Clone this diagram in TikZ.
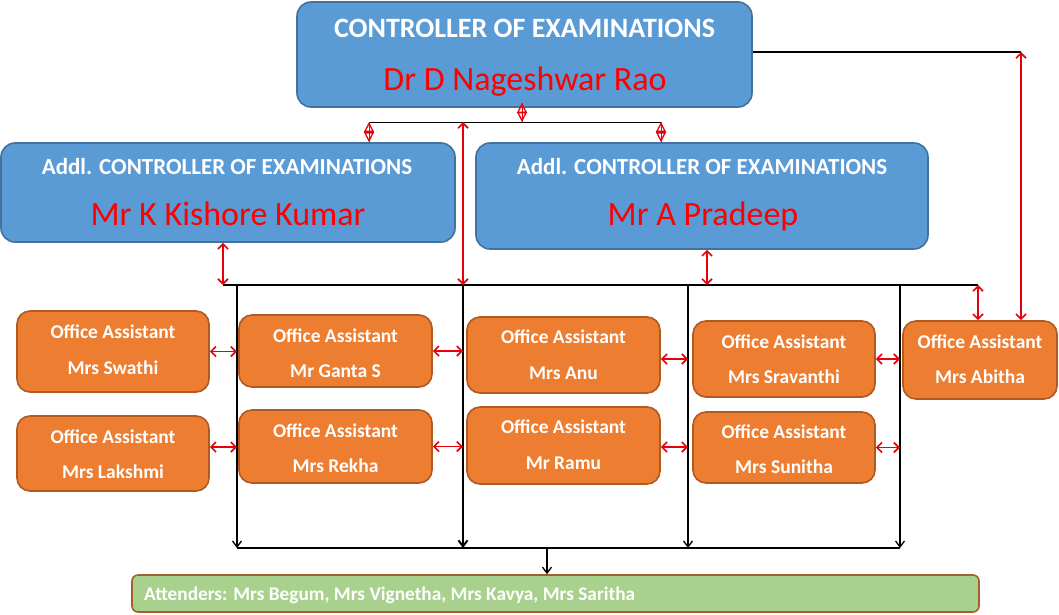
\documentclass[tikz,border=0pt]{standalone}
\usepackage{fontspec}
\setmainfont{Carlito}
\usetikzlibrary{arrows.meta}
\definecolor{bfill}{HTML}{5B9BD5}
\definecolor{bdraw}{HTML}{41719C}
\definecolor{ofill}{HTML}{ED7D31}
\definecolor{odraw}{HTML}{AE5A21}
\definecolor{gfill}{HTML}{A9D18E}
\definecolor{gdraw}{HTML}{A5602A}
\definecolor{ared}{HTML}{E8000B}
\newcommand\assist[8]{%
  \node[obox, minimum width=#4, minimum height=#5] (#1) at (#2,#3) {};
  \node[otext] (#1-r) at (#2,#6) {Office Assistant};
  \node[otext] (#1-n) at (#2,#7) {#8};
}
\begin{document}
\begin{tikzpicture}[x=1pt,y=-1pt,
  bbox/.style={draw=bdraw, fill=bfill, line width=1.6pt, rounded corners=14pt, inner sep=0pt},
  obox/.style={draw=odraw, fill=ofill, line width=1.6pt, rounded corners=13pt, inner sep=0pt},
  gbox/.style={draw=gdraw, fill=gfill, line width=1.6pt, rounded corners=6pt, inner sep=0pt},
  ttext/.style={anchor=base, text=white, inner sep=0pt, font=\fontsize{28}{28}\selectfont\bfseries},
  atext/.style={anchor=base, text=white, inner sep=0pt, font=\fontsize{23}{23}\selectfont\bfseries},
  ntext/.style={anchor=base, text=red, inner sep=0pt, font=\fontsize{34}{34}\selectfont},
  otext/.style={anchor=base, text=white, inner sep=0pt, font=\fontsize{19.5}{19.5}\selectfont\bfseries},
  gtext/.style={anchor=base west, text=white, inner sep=0pt, font=\fontsize{19.3}{19.3}\selectfont\bfseries},
  rarr/.style={draw=ared, line width=1.7pt, {Straight Barb[length=5pt,width=10pt]}-{Straight Barb[length=5pt,width=10pt]}},
  diam/.style={draw=ared, line width=1.3pt, {Triangle[open,length=10pt,width=10pt]}-{Triangle[open,length=10pt,width=10pt]}},
  rline/.style={draw=ared, line width=1pt},
  blk/.style={draw=black, line width=1.3pt},
  blkarr/.style={blk, -{Straight Barb[length=6pt,width=9pt]}}
]
\useasboundingbox (0,0) rectangle (1059,614);

% top boxes
\node[bbox, minimum width=455, minimum height=105] (top) at (524.5,54.5) {};
\node[ttext] (top-t) at (524.5,37) {CONTROLLER OF EXAMINATIONS};
\node[ntext] (top-n) at (525,90) {Dr D Nageshwar Rao};

\node[bbox, minimum width=454, minimum height=99] (addl1) at (228,192.5) {};
\node[atext] (addl1-t) at (227,174) {Addl. CONTROLLER OF EXAMINATIONS};
\node[ntext] (addl1-n) at (228,225) {Mr K Kishore Kumar};

\node[bbox, minimum width=452, minimum height=106] (addl2) at (702,196) {};
\node[atext] (addl2-t) at (702,174) {Addl. CONTROLLER OF EXAMINATIONS};
\node[ntext] (addl2-n) at (703,225) {Mr A Pradeep};

% assistants
\assist{swathi}{113}{351.5}{192}{81}{338}{374}{Mrs Swathi}
\assist{lakshmi}{113}{453.5}{192}{75}{443}{478}{Mrs Lakshmi}
\assist{ganta}{335.5}{351}{193}{72}{342}{377}{Mr Ganta S}
\assist{rekha}{335.5}{446.5}{193}{73}{437}{472}{Mrs Rekha}
\assist{anu}{563.5}{355}{193}{76}{343}{379}{Mrs Anu}
\assist{ramu}{563.5}{445.5}{193}{77}{433}{469}{Mr Ramu}
\assist{sravanthi}{784}{359}{182}{76}{348}{383}{Mrs Sravanthi}
\assist{sunitha}{784}{447.5}{182}{71}{438}{473}{Mrs Sunitha}
\assist{abitha}{980}{360}{154}{78}{348}{383}{Mrs Abitha}

% attenders
\node[gbox, minimum width=847, minimum height=37] (green) at (555.5,593.5) {};
\node[gtext] (green-t) at (144,600) {Attenders: Mrs Begum, Mrs Vignetha, Mrs Kavya, Mrs Saritha};

% junction coordinates
\coordinate (hlL) at (369,122);
\coordinate (hlR) at (661,122);
\coordinate (hlM) at (522,122);
\coordinate (hbL) at (223,285);
\coordinate (hbA) at (707,285);
\coordinate (hbR) at (978,285);
\coordinate (v1) at (237,285);
\coordinate (v2) at (463,285);
\coordinate (v3) at (688,285);
\coordinate (v4) at (900,285);
\coordinate (b1) at (237,548);
\coordinate (b2) at (463,548);
\coordinate (b3) at (688,548);
\coordinate (b4) at (900,548);
\coordinate (bm) at (547,548);
\coordinate (rc) at (1021,52);

% upper connectors
\draw[blk, line width=1pt] (hlL) -- (hlR);
\draw[rline] ([yshift=5pt]hlM |- top.south) -- (hlM);
\draw[diam] ([yshift=5pt]hlM |- top.south) -- (hlM);
\draw[rline] (hlL) -- (hlL |- addl1.north);
\draw[diam] (hlL) -- (hlL |- addl1.north);
\draw[rline] (hlR) -- (hlR |- addl2.north);
\draw[diam] (hlR) -- (hlR |- addl2.north);

\draw[blk] (hbL) -- (hbR);
\draw[blk] (top.east |- rc) -- (rc);

% vertical bus lines
\draw[blkarr] (v1) -- (b1);
\draw[blkarr, line width=2pt] (v2) -- (b2);
\draw[blkarr] (v3) -- (b3);
\draw[blkarr] (v4) -- (b4);
\draw[blk, line width=2pt] (b1) -- (b4);
\draw[blkarr] (bm) -- (bm |- green.north);

% red arrows
\draw[rarr] (v2 |- hlL) -- (v2);
\draw[rarr] (hbL |- addl1.south) -- (hbL);
\draw[rarr] (hbA |- addl2.south) -- (hbA);
\draw[rarr] (hbR) -- (hbR |- abitha.north);
\draw[rarr] (rc) -- (rc |- abitha.north);

\draw[rarr] (swathi.east) -- (swathi.east -| v1);
\draw[rarr] (lakshmi.east |- 0,447) -- (v1 |- 0,447);
\draw[rarr] (ganta.east) -- (ganta.east -| v2);
\draw[rarr] (rekha.east) -- (rekha.east -| v2);
\draw[rarr] (anu.east |- 0,359) -- (v3 |- 0,359);
\draw[rarr] (ramu.east |- 0,447) -- (v3 |- 0,447);
\draw[rarr] (sravanthi.east) -- (sravanthi.east -| v4);
\draw[rarr] (sunitha.east) -- (sunitha.east -| v4);
\end{tikzpicture}
\end{document}
